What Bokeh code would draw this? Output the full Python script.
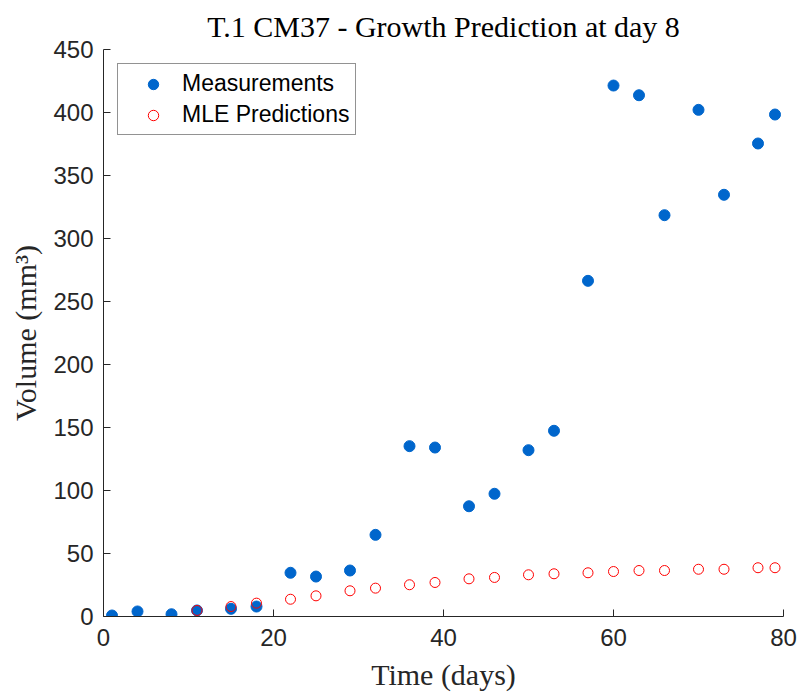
from bokeh.plotting import figure
from bokeh.models import Range1d, FixedTicker, Legend, LegendItem
from bokeh.embed import file_html
from bokeh.resources import INLINE

# Data
meas_days = [1, 4, 8, 11, 15, 18, 22, 25, 29, 32, 36, 39, 43, 46, 50, 53, 57, 60, 63, 66, 70, 73, 77, 79]
meas_vol = [0.8, 4.0, 1.8, 4.8, 6.1, 7.9, 34.7, 31.7, 36.5, 64.8, 135.2, 134.1, 87.5, 97.4, 132.0, 147.4,
            266.4, 421.4, 413.7, 318.5, 402.1, 334.7, 375.4, 398.4]
pred_days = [11, 15, 18, 22, 25, 29, 32, 36, 39, 43, 46, 50, 53, 57, 60, 63, 66, 70, 73, 77, 79]
pred_vol = [4.8, 7.9, 10.6, 13.7, 16.4, 20.4, 22.5, 25.2, 27.0, 29.9, 31.0, 33.1, 33.9, 34.7, 35.7,
            36.5, 36.5, 37.5, 37.5, 38.7, 38.7]
x_ticks = [0, 20, 40, 60, 80]
y_ticks = [0, 50, 100, 150, 200, 250, 300, 350, 400, 450]
title_text = "T.1 CM37 - Growth Prediction at day 8"

AX = "#262626"

p = figure(width=800, height=694, output_backend="svg", toolbar_location=None,
           x_range=Range1d(0, 80), y_range=Range1d(0, 450), title=title_text,
           min_border_left=103, min_border_right=17, min_border_top=49, min_border_bottom=78)
p.outline_line_color = None
p.grid.visible = False
p.background_fill_color = "white"
p.border_fill_color = "white"

p.title.text_font = "Liberation Serif"
p.title.text_font_size = "30px"
p.title.text_font_style = "normal"
p.title.text_color = "black"
p.title.align = "center"
p.title.standoff = 13

for ax in (p.xaxis[0], p.yaxis[0]):
    ax.axis_line_color = AX
    ax.major_tick_line_color = AX
    ax.major_tick_in = 7
    ax.major_tick_out = 0
    ax.minor_tick_line_color = None
    ax.major_label_text_font = "Liberation Sans"
    ax.major_label_text_font_size = "24px"
    ax.major_label_text_color = AX
    ax.axis_label_text_font = "Liberation Serif"
    ax.axis_label_text_font_size = "30px"
    ax.axis_label_text_font_style = "normal"
    ax.axis_label_text_color = AX

p.xaxis[0].ticker = FixedTicker(ticks=x_ticks)
p.yaxis[0].ticker = FixedTicker(ticks=y_ticks)
p.xaxis[0].major_label_standoff = 12
p.yaxis[0].major_label_standoff = 10
p.xaxis[0].axis_label = "Time (days)"
p.yaxis[0].axis_label = "Volume (mm³)"
p.xaxis[0].axis_label_standoff = 9
p.yaxis[0].axis_label_standoff = 8

r_meas = p.scatter(meas_days, meas_vol, size=11, marker="circle",
                   fill_color="#0066CC", line_color="#0066CC")
r_pred = p.scatter(pred_days, pred_vol, size=10, marker="circle",
                   fill_color=None, line_color="#FF0000", line_width=1)

legend = Legend(items=[LegendItem(label="Measurements", renderers=[r_meas]),
                       LegendItem(label="MLE Predictions", renderers=[r_pred])],
                location="top_left")
legend.margin = 14
legend.padding = 6
legend.spacing = 4
legend.label_height = 26
legend.glyph_height = 26
legend.glyph_width = 58
legend.label_standoff = 0
legend.label_text_font = "Liberation Sans"
legend.label_text_font_size = "23px"
legend.label_text_color = "black"
legend.border_line_color = AX
legend.border_line_width = 1
legend.background_fill_color = "white"
legend.background_fill_alpha = 1
p.add_layout(legend)

open("out.html", "w").write(file_html(p, INLINE))
